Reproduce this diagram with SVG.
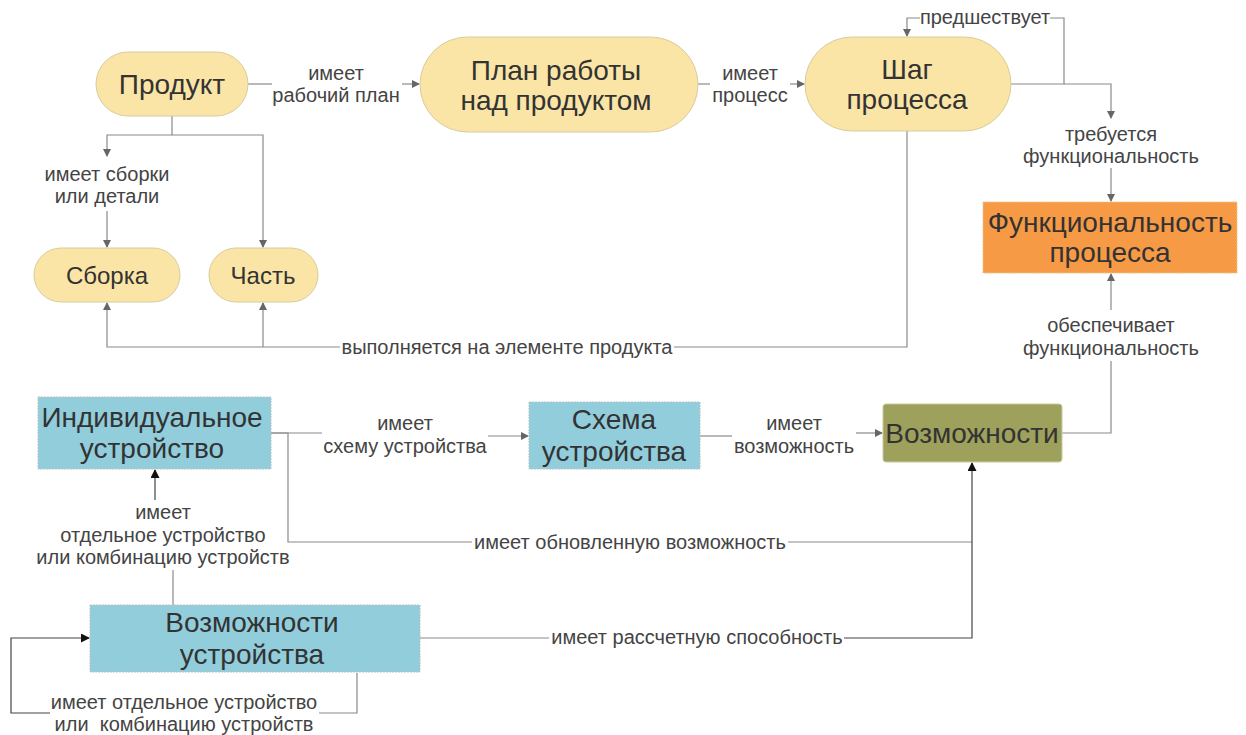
<svg xmlns="http://www.w3.org/2000/svg" width="1246" height="735" viewBox="0 0 1246 735">
  <style>
    .pill { fill: #fbe5a6; stroke: #d8cc9e; stroke-width: 1; }
    .blue { fill: #92cddc; stroke: #b8c4c8; stroke-width: 1; stroke-dasharray: 2 1; }
    .orange { fill: #f79a46; stroke: #f0c090; stroke-width: 1; stroke-dasharray: 2 1; }
    .olive { fill: #9da15b; stroke: #c8cba0; stroke-width: 1; }
    .nt { font-family: "Liberation Sans", Arial, sans-serif; font-size: 28px; fill: #333; text-anchor: middle; }
    .sm { font-size: 24px; }
    .lt { font-family: "Liberation Sans", Arial, sans-serif; font-size: 20px; fill: #444; text-anchor: middle; white-space: pre; }
    .ln { fill: none; stroke: #8a8a8a; stroke-width: 1.2; }
    .lk { fill: none; stroke: #444; stroke-width: 1.2; }
  </style>
  <defs>
    <marker id="ah" markerWidth="8" markerHeight="8" refX="7" refY="4" orient="auto" markerUnits="userSpaceOnUse">
      <path d="M0,0 L8,4 L0,8 z" fill="#666"/>
    </marker>
    <marker id="ahk" markerWidth="9" markerHeight="9" refX="8" refY="4.5" orient="auto" markerUnits="userSpaceOnUse">
      <path d="M0,0 L9,4.5 L0,9 z" fill="#111"/>
    </marker>
  </defs>

  <rect width="1246" height="735" fill="#fff"/>

  <g id="connectors">
    <!-- Продукт -> План -->
    <path class="ln" d="M248,84 H272"/>
    <path class="ln" d="M402,84 H419" marker-end="url(#ah)"/>
    <text class="lt" x="336" y="80">имеет</text>
    <text class="lt" x="336" y="102">рабочий план</text>

    <!-- План -> Шаг -->
    <path class="ln" d="M698,84 H710"/>
    <path class="ln" d="M790,84 H804" marker-end="url(#ah)"/>
    <text class="lt" x="750" y="80">имеет</text>
    <text class="lt" x="750" y="102">процесс</text>

    <!-- Шаг: предшествует (петля) -->
    <path class="ln" d="M1011,84 H1064 V18 H1050"/>
    <path class="ln" d="M920,18 H907 V36" marker-end="url(#ah)"/>
    <text class="lt" x="985" y="24">предшествует</text>

    <!-- Шаг -> Функциональность -->
    <path class="ln" d="M1064,84 H1111 V118" marker-end="url(#ah)"/>
    <text class="lt" x="1111" y="141">требуется</text>
    <text class="lt" x="1111" y="163">функциональность</text>
    <path class="ln" d="M1111,168 V201" marker-end="url(#ah)"/>

    <!-- Продукт -> Сборка / Часть -->
    <path class="ln" d="M172,116 V135 H107 V156" marker-end="url(#ah)"/>
    <path class="ln" d="M172,135 H263 V247" marker-end="url(#ah)"/>
    <text class="lt" x="107" y="181">имеет сборки</text>
    <text class="lt" x="107" y="203">или детали</text>
    <path class="ln" d="M107,211 V247" marker-end="url(#ah)"/>

    <!-- Шаг -> элементы продукта -->
    <path class="ln" d="M907,131 V347 H674"/>
    <path class="ln" d="M340,347 H107 V303" marker-end="url(#ah)"/>
    <path class="ln" d="M263,347 V303" marker-end="url(#ah)"/>
    <text class="lt" x="507" y="354">выполняется на элементе продукта</text>

    <!-- Возможности -> Функциональность -->
    <path class="ln" d="M1062,433 H1111 V361"/>
    <path class="ln" d="M1111,310 V274" marker-end="url(#ah)"/>
    <text class="lt" x="1111" y="332">обеспечивает</text>
    <text class="lt" x="1111" y="355">функциональность</text>

    <!-- Индивидуальное устройство -> Схема -->
    <path class="ln" d="M271,433 H322"/>
    <path class="ln" d="M488,436 H528" marker-end="url(#ah)"/>
    <text class="lt" x="405" y="430">имеет</text>
    <text class="lt" x="405" y="453">схему устройства</text>

    <!-- Схема -> Возможности -->
    <path class="ln" d="M700,436 H732"/>
    <path class="ln" d="M856,433 H882" marker-end="url(#ah)"/>
    <text class="lt" x="794" y="430">имеет</text>
    <text class="lt" x="794" y="453">возможность</text>

    <!-- Индивидуальное устройство -> Возможности (обновленная) -->
    <path class="ln" d="M271,433 H288 V542 H472"/>
    <path class="ln" d="M788,542 H972"/>
    <text class="lt" x="630" y="549">имеет обновленную возможность</text>

    <!-- Возможности устройства -> Возможности (рассчетная) -->
    <path class="ln" d="M420,638 H549"/>
    <path class="lk" d="M844,638 H972 V463" marker-end="url(#ahk)"/>
    <text class="lt" x="697" y="644">имеет рассчетную способность</text>

    <!-- Возможности устройства -> Индивидуальное устройство -->
    <path class="ln" d="M173,605 V570"/>
    <path class="lk" d="M155,500 V470" marker-end="url(#ahk)"/>
    <text class="lt" x="163" y="519">имеет</text>
    <text class="lt" x="163" y="542">отдельное устройство</text>
    <text class="lt" x="163" y="564">или комбинацию устройств</text>

    <!-- Возможности устройства: петля -->
    <path class="ln" d="M357,673 V713 H319"/>
    <path class="lk" d="M50,713 H11 V638 H89" marker-end="url(#ahk)"/>
    <text class="lt" x="184" y="709">имеет отдельное устройство</text>
    <text class="lt" x="184" y="731" xml:space="preserve">или  комбинацию устройств</text>
  </g>

  <g id="product">
    <rect class="pill" x="96" y="52" width="152" height="64" rx="32"/>
    <text class="nt" x="172" y="94">Продукт</text>
  </g>

  <g id="work-plan">
    <rect class="pill" x="420" y="37" width="278" height="95" rx="47.5"/>
    <text class="nt" x="556" y="80">План работы</text>
    <text class="nt" x="556" y="110">над продуктом</text>
  </g>

  <g id="process-step">
    <rect class="pill" x="805" y="37" width="206" height="94" rx="47"/>
    <text class="nt" x="907" y="79">Шаг</text>
    <text class="nt" x="907" y="109">процесса</text>
  </g>

  <g id="assembly">
    <rect class="pill" x="34" y="248" width="146" height="54" rx="27"/>
    <text class="nt sm" x="107" y="284">Сборка</text>
  </g>

  <g id="part">
    <rect class="pill" x="209" y="248" width="109" height="54" rx="27"/>
    <text class="nt sm" x="263" y="284">Часть</text>
  </g>

  <g id="process-functionality">
    <rect class="orange" x="983" y="202" width="254" height="71"/>
    <text class="nt" x="1110" y="232">Функциональность</text>
    <text class="nt" x="1110" y="262">процесса</text>
  </g>

  <g id="individual-device">
    <rect class="blue" x="38" y="397" width="233" height="72"/>
    <text class="nt" x="152" y="427">Индивидуальное</text>
    <text class="nt" x="152" y="458">устройство</text>
  </g>

  <g id="device-schema">
    <rect class="blue" x="529" y="402" width="171" height="67"/>
    <text class="nt" x="614" y="429">Схема</text>
    <text class="nt" x="614" y="461">устройства</text>
  </g>

  <g id="capabilities">
    <rect class="olive" x="883" y="404" width="179" height="58" rx="3"/>
    <text class="nt" x="972" y="443">Возможности</text>
  </g>

  <g id="device-capabilities">
    <rect class="blue" x="90" y="605" width="330" height="67"/>
    <text class="nt" x="252" y="632">Возможности</text>
    <text class="nt" x="252" y="664">устройства</text>
  </g>
</svg>
